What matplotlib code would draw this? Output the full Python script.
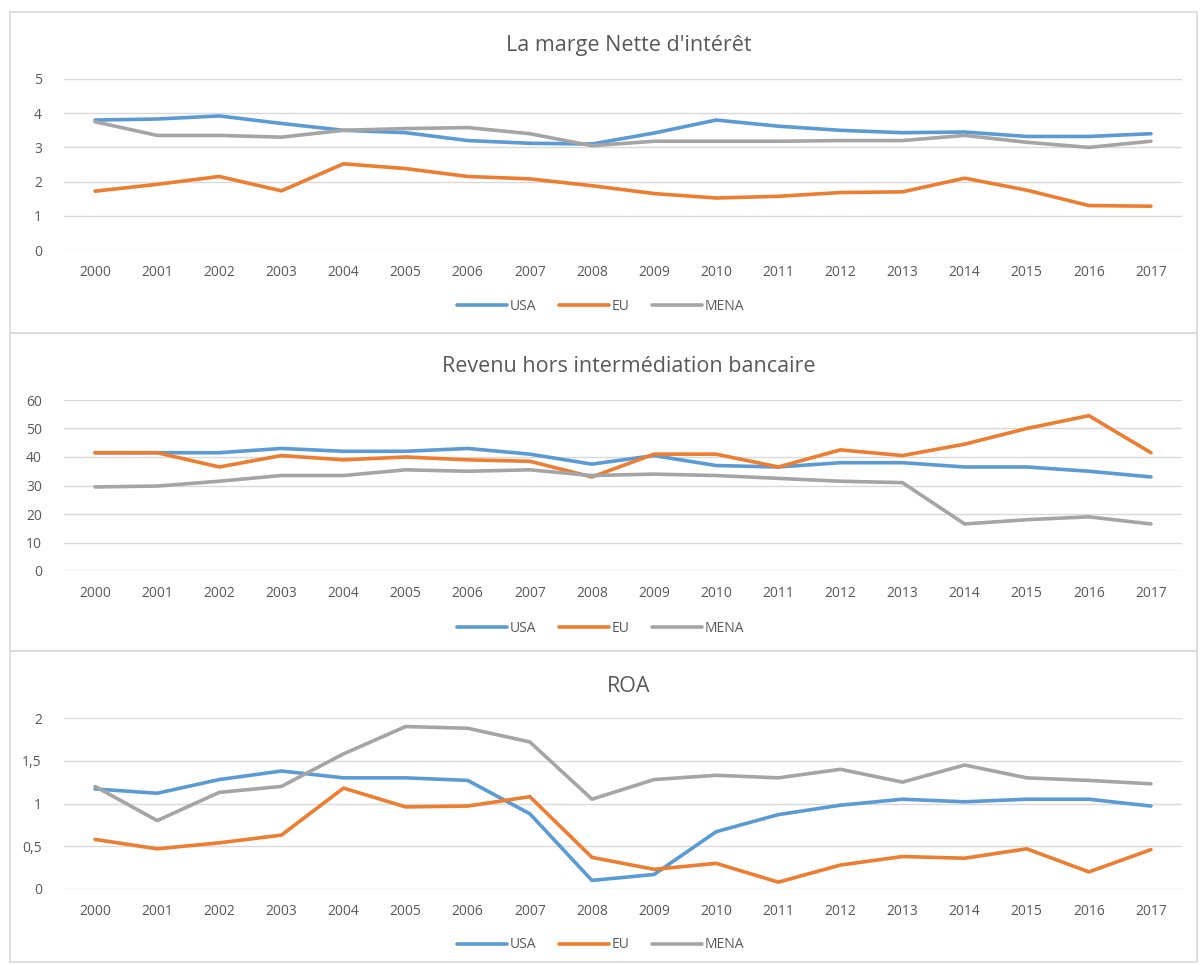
import matplotlib.pyplot as plt
from matplotlib.patches import Rectangle
from matplotlib.ticker import FuncFormatter

years = [str(y) for y in range(2000, 2018)]

# La marge Nette d'intérêt
nim_usa = [3.8, 3.83, 3.92, 3.7, 3.5, 3.43, 3.2, 3.12, 3.1, 3.42, 3.8, 3.62, 3.5, 3.43, 3.45, 3.32, 3.32, 3.4]
nim_eu = [1.72, 1.92, 2.15, 1.73, 2.52, 2.38, 2.15, 2.08, 1.88, 1.65, 1.52, 1.57, 1.68, 1.7, 2.1, 1.75, 1.3, 1.28]
nim_mena = [3.75, 3.35, 3.35, 3.3, 3.5, 3.55, 3.58, 3.4, 3.05, 3.18, 3.18, 3.18, 3.2, 3.2, 3.35, 3.15, 3.0, 3.18]

# Revenu hors intermédiation bancaire
rev_usa = [41.5, 41.5, 41.5, 43, 42, 42, 43, 41, 37.5, 40.5, 37, 36.5, 38, 38, 36.5, 36.5, 35, 33]
rev_eu = [41.5, 41.5, 36.5, 40.5, 39, 40, 39, 38.5, 33, 41, 41, 36.5, 42.5, 40.5, 44.5, 50, 54.5, 41.5]
rev_mena = [29.5, 29.8, 31.5, 33.5, 33.5, 35.5, 35, 35.5, 33.5, 34, 33.5, 32.5, 31.5, 31, 16.5, 18, 19, 16.5]

# ROA
roa_usa = [1.17, 1.12, 1.28, 1.38, 1.3, 1.3, 1.27, 0.88, 0.1, 0.17, 0.67, 0.87, 0.98, 1.05, 1.02, 1.05, 1.05, 0.97]
roa_eu = [0.58, 0.47, 0.54, 0.63, 1.18, 0.96, 0.97, 1.08, 0.37, 0.23, 0.3, 0.08, 0.28, 0.38, 0.36, 0.47, 0.2, 0.46]
roa_mena = [1.2, 0.8, 1.13, 1.2, 1.58, 1.9, 1.88, 1.72, 1.05, 1.28, 1.33, 1.3, 1.4, 1.25, 1.45, 1.3, 1.27, 1.23]

series_names = ['USA', 'EU', 'MENA']
colors = ['#5B9BD5', '#ED7D31', '#A5A5A5']

W, H = 1201, 965
fig = plt.figure(figsize=(W / 100, H / 100), dpi=100)
plt.rcParams['font.family'] = ['Open Sans', 'DejaVu Sans']

# panel frames (pixel coords: left, top, right, bottom)
frames = [(10, 12, 1197, 333), (10, 333, 1197, 651), (10, 651, 1197, 962)]
for l, t, r, b in frames:
    fig.patches.append(Rectangle((l / W, 1 - b / H), (r - l) / W, (b - t) / H,
                                 transform=fig.transFigure, fill=False,
                                 edgecolor='#D9D9D9', linewidth=1.2))

panels = [
    dict(title="La marge Nette d'intérêt", data=[nim_usa, nim_eu, nim_mena],
         ylim=(0, 5), step=1, top=79, bottom=250, title_y=45, leg_y=306, comma=False),
    dict(title="Revenu hors intermédiation bancaire", data=[rev_usa, rev_eu, rev_mena],
         ylim=(0, 60), step=10, top=400, bottom=571, title_y=366, leg_y=628, comma=False),
    dict(title="ROA", data=[roa_usa, roa_eu, roa_mena],
         ylim=(0, 2), step=0.5, top=718, bottom=889, title_y=686, leg_y=945, comma=True),
]

x_left, x_right = 64, 1182
for p in panels:
    ax = fig.add_axes([x_left / W, 1 - p['bottom'] / H,
                       (x_right - x_left) / W, (p['bottom'] - p['top']) / H])
    x = list(range(len(years)))
    handles = []
    for name, vals, c in zip(series_names, p['data'], colors):
        h, = ax.plot(x, vals, color=c, linewidth=2.6, label=name,
                     solid_joinstyle='round', solid_capstyle='round')
        handles.append(h)
    ax.set_xlim(-0.5, len(years) - 0.5)
    lo, hi = p['ylim']
    ax.set_ylim(lo, hi)
    n = int(round((hi - lo) / p['step']))
    ax.set_yticks([lo + i * p['step'] for i in range(n + 1)])
    if p['comma']:
        ax.yaxis.set_major_formatter(FuncFormatter(lambda v, pos: ('%g' % v).replace('.', ',')))
    ax.set_xticks(x)
    ax.set_xticklabels(years)
    ax.grid(axis='y', color='#D9D9D9', linewidth=1)
    ax.set_axisbelow(True)
    for s in ax.spines.values():
        s.set_visible(False)
    ax.tick_params(axis='both', length=0, colors='#595959', labelsize=10)
    ax.tick_params(axis='x', pad=11)
    ax.tick_params(axis='y', pad=16)
    fig.text(0.5 * (x_left + x_right) / W + 0.005, 1 - p['title_y'] / H, p['title'],
             ha='center', va='center', fontsize=15.5, color='#595959')
    fig.legend(handles=handles, loc='center', bbox_to_anchor=(0.5, 1 - p['leg_y'] / H),
               ncol=3, frameon=False, fontsize=10, labelcolor='#595959',
               handlelength=3.6, handletextpad=0.2, columnspacing=1.6)

fig.savefig('out.png', dpi=100, facecolor='white')
